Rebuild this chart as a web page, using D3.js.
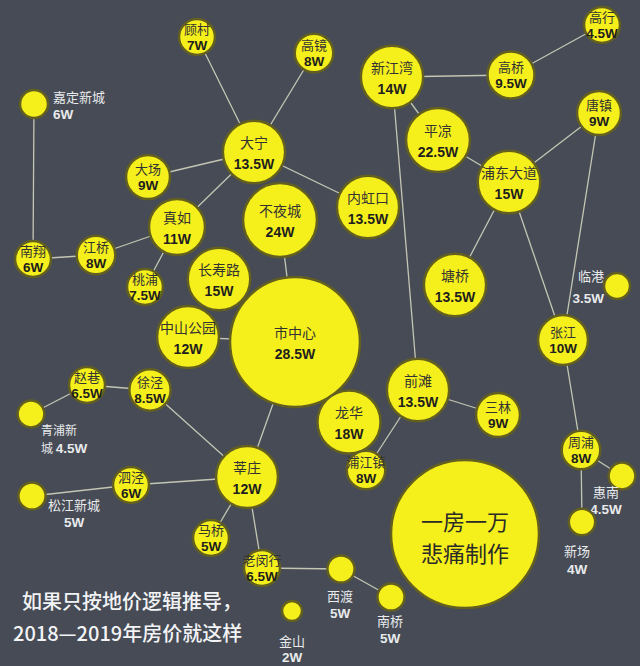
<!DOCTYPE html>
<html>
<head>
<meta charset="utf-8">
<script src="https://cdn.jsdelivr.net/npm/d3@7"></script>
<style>
  html, body { margin: 0; padding: 0; background: #464b55; }
  #svg-container { width: 640px; height: 666px; }
  svg { display: block; }
  text { font-family: "Noto Sans CJK SC", "Noto Sans", sans-serif; }
  .val { font-family: "Liberation Sans", Arial, sans-serif; font-weight: bold; }
</style>
</head>
<body>
<div id="svg-container"></div>
<script>
////////////////////////////////////////////////////////////////////
////////////////////////////  Data  ////////////////////////////////
// area names and price (万/平)
const names = [
  "顾村", "高镜", "嘉定新城", "大宁", "大场", "真如", "不夜城", "南翔",
  "江桥", "桃浦", "长寿路", "中山公园", "市中心", "龙华", "浦江镇", "前滩",
  "三林", "张江", "周浦", "惠南", "新场", "西渡", "南桥", "金山",
  "老闵行", "马桥", "莘庄", "泗泾", "松江新城", "青浦新城", "赵巷", "徐泾",
  "高行", "新江湾", "高桥", "唐镇", "平凉", "浦东大道", "内虹口", "塘桥", "临港",
];
const prices = [
  7, 8, 6, 13.5, 9, 11, 24, 6,
  8, 7.5, 15, 12, 28.5, 18, 8, 13.5,
  9, 10, 8, 4.5, 4, 5, 5, 2,
  6.5, 5, 12, 6, 5, 4.5, 6.5, 8.5,
  4.5, 14, 9.5, 9, 22.5, 15, 13.5, 13.5, 3.5,
];
// schematic map coordinates (grid units)
const gridX = [
  19.7, 31.4, 3.4, 25.4, 14.8, 17.7, 28.0, 3.3,
  9.6, 14.5, 21.9, 18.8, 29.5, 34.9, 36.6, 41.8,
  49.8, 56.3, 58.1, 62.2, 58.2, 34.1, 39.1, 29.2,
  26.2, 21.1, 24.7, 13.1, 3.2, 3.1, 8.7, 15.0,
  60.2, 39.2, 51.1, 59.9, 43.8, 50.9, 36.8, 45.5, 61.7,
];
const gridY = [
  3.7, 5.3, 10.4, 15.2, 17.7, 22.7, 22.0, 25.9,
  25.5, 28.7, 27.9, 33.7, 34.2, 42.2, 47.0, 39.0,
  41.5, 34.0, 45.0, 47.6, 52.2, 56.9, 59.7, 61.1,
  56.8, 53.8, 47.7, 48.5, 49.6, 41.4, 38.5, 39.0,
  2.5, 7.7, 7.5, 11.3, 14.0, 18.2, 20.7, 28.5, 28.6,
];
// connections
const links = [
  ["顾村", "大宁"], ["高镜", "大宁"], ["大场", "大宁"], ["真如", "大宁"],
  ["大宁", "内虹口"], ["嘉定新城", "南翔"], ["南翔", "江桥"], ["江桥", "真如"],
  ["真如", "桃浦"], ["不夜城", "市中心"], ["中山公园", "市中心"], ["市中心", "莘庄"],
  ["青浦新城", "赵巷"], ["赵巷", "徐泾"], ["徐泾", "莘庄"], ["松江新城", "泗泾"],
  ["泗泾", "莘庄"], ["莘庄", "马桥"], ["莘庄", "老闵行"], ["老闵行", "西渡"],
  ["西渡", "南桥"], ["新江湾", "高桥"], ["高桥", "高行"], ["新江湾", "平凉"],
  ["平凉", "浦东大道"], ["浦东大道", "唐镇"], ["浦东大道", "塘桥"], ["浦东大道", "张江"],
  ["唐镇", "张江"], ["新江湾", "前滩"], ["前滩", "三林"], ["前滩", "浦江镇"],
  ["张江", "周浦"], ["周浦", "惠南"], ["周浦", "新场"],
];
const badgeLines = ["一房一万", "悲痛制作"];
const badgeGrid = [46.5, 53.4];
const captionLines = ["如果只按地价逻辑推导，", "2018—2019年房价就这样"];

////////////////////////////////////////////////////////////////////
////////////////////////////  Init  ////////////////////////////////
const width = 640;
const height = 666;

const svg = d3
  .select("#svg-container")
  .append("svg")
  .attr("width", width)
  .attr("height", height);

svg.append("rect").attr("width", width).attr("height", height).attr("fill", "#464b55");

// scales
const x = d3.scaleLinear().domain([0, 64]).range([0, width]);
const y = d3.scaleLinear().domain([0, 66.6]).range([0, height]);
const r = d3
  .scaleLinear()
  .domain([2, 3.5, 6, 9, 12, 22.5, 24, 28.5])
  .range([10, 13, 14, 22, 31, 32, 37, 65]);

// baseline from visual middle (cjk glyphs sit ~0.38em above baseline, digits ~0.36em)
const cjkY = (mid, size) => mid + 0.38 * size;
const latY = (mid, size) => mid + 0.36 * size;

// labels that sit outside their bubble
const outside = {
  嘉定新城: { dx: 19, dy: -6.5, gap: 16.5, anchor: "start" },
  临港: { dx: -13, dy: -10, gap: 22, anchor: "end" },
  惠南: { dx: -16, dy: 16.5, gap: 16.5, anchor: "middle" },
  新场: { dx: -5, dy: 29, gap: 18, anchor: "middle" },
  西渡: { dx: -1, dy: 27.5, gap: 16.5, anchor: "middle" },
  南桥: { dx: -1, dy: 24.5, gap: 16.5, anchor: "middle" },
  金山: { dx: 0, dy: 30, gap: 16.5, anchor: "middle" },
  松江新城: { dx: 42, dy: 9.5, gap: 16.5, anchor: "middle" },
  青浦新城: { dx: 10, dy: 16.5, gap: 17.6, anchor: "start", split: 3 },
};

const nodes = names.map((n, i) => {
  const out = outside[n];
  const rad = out ? r(prices[i]) : Math.max(18, r(prices[i]));
  return { name: n, price: prices[i], cx: x(gridX[i]), cy: y(gridY[i]), r: rad, out };
});
const byName = new Map(nodes.map((d) => [d.name, d]));

////////////////////////////////////////////////////////////////////
////////////////////////////  Links  ///////////////////////////////
svg
  .append("g")
  .selectAll("line")
  .data(links)
  .join("line")
  .attr("x1", (d) => byName.get(d[0]).cx)
  .attr("y1", (d) => byName.get(d[0]).cy)
  .attr("x2", (d) => byName.get(d[1]).cx)
  .attr("y2", (d) => byName.get(d[1]).cy)
  .attr("stroke", "#c4c6b4")
  .attr("stroke-width", 1.3);

////////////////////////////////////////////////////////////////////
////////////////////////////  Bubbles  /////////////////////////////
const bubble = svg
  .append("g")
  .selectAll("g")
  .data(nodes)
  .join("g")
  .attr("transform", (d) => `translate(${d.cx},${d.cy})`);

bubble
  .append("circle")
  .attr("r", (d) => d.r)
  .attr("fill", "#f5ef1b")
  .attr("stroke", "#625f20")
  .attr("stroke-width", 2.5);

// inside labels: name + price
const big = (d) => d.r >= 27;

const inside = bubble
  .filter((d) => !d.out)
  .append("text")
  .attr("text-anchor", "middle");

inside
  .append("tspan")
  .attr("x", 0)
  .attr("y", (d) => (big(d) ? cjkY(-9, 14) : cjkY(-8, 13)))
  .attr("fill", "#333")
  .style("font-size", (d) => (big(d) ? "14px" : "13px"))
  .text((d) => d.name);

inside
  .append("tspan")
  .attr("class", "val")
  .attr("x", 0)
  .attr("y", (d) => (big(d) ? latY(12, 14) : latY(8.5, 13.5)))
  .attr("fill", "#1e1e1e")
  .style("font-size", (d) => (big(d) ? "14px" : "13.5px"))
  .text((d) => `${d.price}W`);

// outside labels
const outer = bubble
  .filter((d) => d.out)
  .append("text")
  .attr("text-anchor", (d) => d.out.anchor)
  .attr("fill", "#e8eaec");

outer
  .append("tspan")
  .attr("x", (d) => d.out.dx)
  .attr("y", (d) => cjkY(d.out.dy, d.out.split ? 12 : 13))
  .style("font-size", (d) => (d.out.split ? "12px" : "13px"))
  .text((d) => (d.out.split ? d.name.slice(0, d.out.split) : d.name));

outer
  .filter((d) => d.out.split)
  .append("tspan")
  .attr("x", (d) => d.out.dx)
  .attr("y", (d) => cjkY(d.out.dy + d.out.gap, 12))
  .style("font-size", "12px")
  .text((d) => d.name.slice(d.out.split) + " ");

outer
  .append("tspan")
  .attr("class", "val")
  .attr("x", (d) => (d.out.split ? null : d.out.dx))
  .attr("y", (d) => latY(d.out.dy + d.out.gap, 13.5))
  .style("font-size", "13.5px")
  .text((d) => `${d.price}W`);

////////////////////////////////////////////////////////////////////
////////////////////////////  Badge  ///////////////////////////////
const badge = svg
  .append("g")
  .attr("transform", `translate(${x(badgeGrid[0])},${y(badgeGrid[1])})`);

badge
  .append("circle")
  .attr("r", r(28.5) + 9)
  .attr("fill", "#f5ef1b")
  .attr("stroke", "#625f20")
  .attr("stroke-width", 2.5);

badge
  .append("text")
  .attr("text-anchor", "middle")
  .attr("fill", "#2a2a2a")
  .style("font-size", "22px")
  .selectAll("tspan")
  .data(badgeLines)
  .join("tspan")
  .attr("x", 0)
  .attr("y", (d, i) => cjkY(-12.5 + i * 32.5, 22))
  .text((d) => d);

////////////////////////////////////////////////////////////////////
////////////////////////////  Caption  /////////////////////////////
svg
  .append("g")
  .selectAll("text")
  .data(captionLines)
  .join("text")
  .attr("x", (d, i) => (i === 0 ? 22 : 13))
  .attr("y", (d, i) => 609 + i * 32)
  .attr("fill", "#f2f3f5")
  .style("font-size", "20px")
  .style("font-weight", 500)
  .text((d) => d);
</script>
</body>
</html>
